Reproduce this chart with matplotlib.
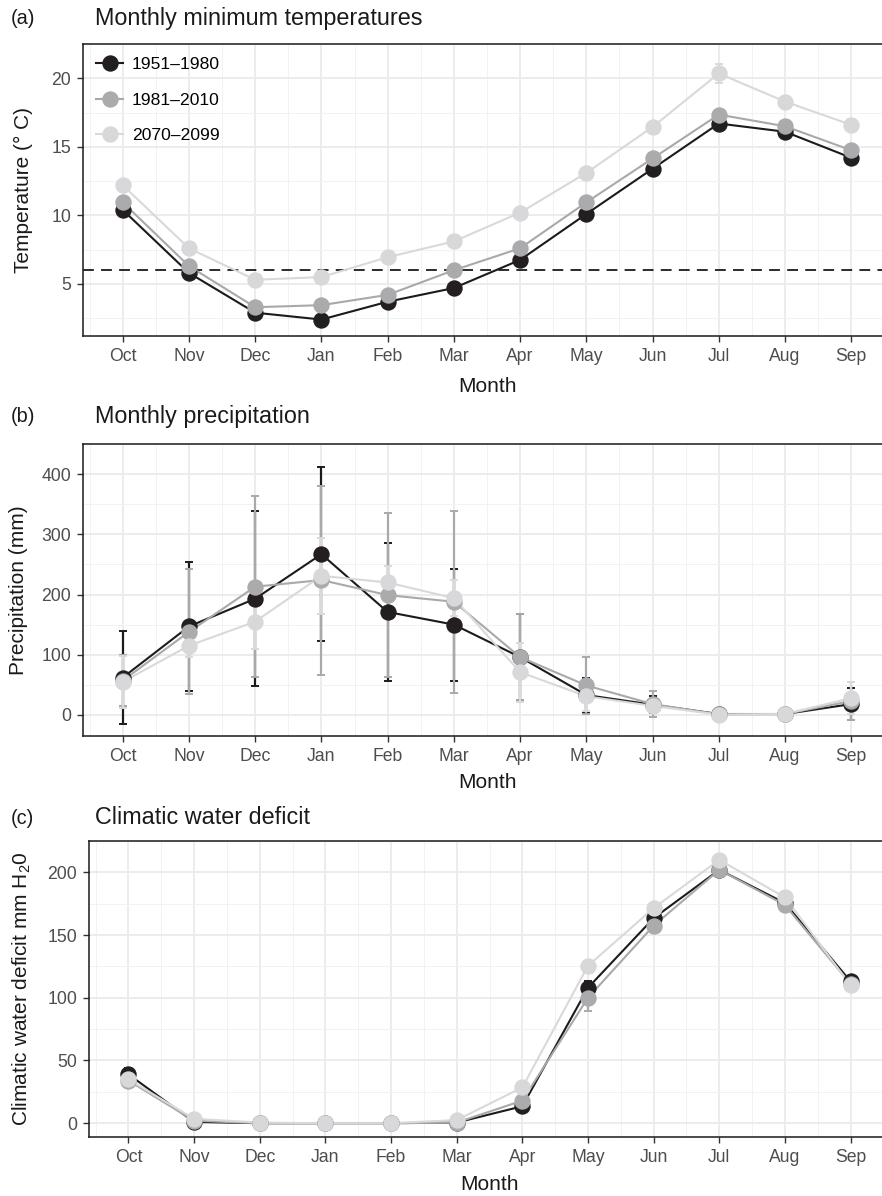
import matplotlib
matplotlib.use("Agg")
import matplotlib.pyplot as plt
import numpy as np

plt.rcParams['font.family'] = ['Liberation Sans', 'DejaVu Sans']
plt.rcParams['mathtext.fontset'] = 'custom'
plt.rcParams['mathtext.rm'] = 'Liberation Sans'

months = ["Oct", "Nov", "Dec", "Jan", "Feb", "Mar", "Apr", "May", "Jun", "Jul", "Aug", "Sep"]
periods = ["1951\u20131980", "1981\u20132010", "2070\u20132099"]

# (a) monthly minimum temperature (deg C), mean and sd
tmin_1951 = [10.4, 5.8, 2.9, 2.4, 3.7, 4.7, 6.75, 10.1, 13.4, 16.7, 16.1, 14.2]
tmin_1981 = [10.95, 6.3, 3.3, 3.45, 4.2, 6.0, 7.6, 10.95, 14.15, 17.35, 16.5, 14.75]
tmin_2070 = [12.2, 7.6, 5.3, 5.5, 6.95, 8.1, 10.2, 13.1, 16.45, 20.35, 18.3, 16.6]
tmin_sd_1951 = [0.2, 0.2, 0.2, 0.15, 0.2, 0.15, 0.15, 0.2, 0.2, 0.2, 0.2, 0.2]
tmin_sd_1981 = [0.2, 0.2, 0.2, 0.15, 0.2, 0.15, 0.15, 0.2, 0.2, 0.2, 0.2, 0.2]
tmin_sd_2070 = [0.2, 0.2, 0.2, 0.2, 0.25, 0.2, 0.2, 0.25, 0.25, 0.7, 0.3, 0.45]
threshold = 6

# (b) monthly precipitation (mm), mean and sd
ppt_1951 = [62, 147, 193, 267, 171, 150, 96, 33, 17, 1.5, 1.5, 18]
ppt_1981 = [57, 138, 213, 224, 199, 188, 96, 49, 18, 1, 1.5, 23]
ppt_2070 = [55, 115, 155, 231, 220, 194, 71, 31, 15, 0.5, 1.5, 28]
ppt_sd_1951 = [77, 107, 145, 145, 115, 93, 71, 29, 14, 9, 3, 26]
ppt_sd_1981 = [42, 104, 150, 157, 136, 151, 72, 48, 21, 5, 3, 32]
ppt_sd_2070 = [43, 18, 45, 63, 28, 30, 49, 25, 10, 3, 3, 26]

# (c) climatic water deficit (mm H2O), mean and sd
cwd_1951 = [39, 1, 0, 0, 0, 0.5, 13.5, 108, 163.5, 202, 175.5, 113]
cwd_1981 = [34, 2, 0, 0, 0, 0.5, 18, 100, 157.5, 202, 174, 111]
cwd_2070 = [35, 3.5, 0.5, 0, 0, 2.5, 28.5, 125.5, 171.5, 210, 180, 110]
cwd_sd_1951 = [5, 1, 0, 0, 0, 0.5, 2, 5, 3, 2, 2, 2]
cwd_sd_1981 = [3, 1, 0, 0, 0, 0.5, 2, 10.5, 3, 2, 2, 2]
cwd_sd_2070 = [3, 1, 0, 0, 0, 1, 4, 4, 3, 2, 2, 2]

line_cols = ["#1c1a1b", "#a9a9ab", "#d9d9da"]
pt_cols = ["#231f20", "#ababad", "#d8d8da"]

W, H = 882, 1196
fig = plt.figure(figsize=(W / 100, H / 100), dpi=100)

def fx(px):
    return px / W

def fy(py):
    return 1 - py / H

x = np.arange(1, 13)

def make_panel(left, right, top, bottom, series, sds, ylim, yticks, yminor):
    ax = fig.add_axes([fx(left), fy(bottom), fx(right - left), fy(top) - fy(bottom)])
    ax.set_xlim(0.4, 12.6)
    ax.set_ylim(*ylim)
    ax.set_xticks(x)
    ax.set_xticklabels(months)
    ax.set_xticks(np.arange(0.5, 13, 1), minor=True)
    ax.set_yticks(yticks)
    ax.set_yticks(yminor, minor=True)
    ax.grid(which='major', color='#ebebeb', lw=1.3, zorder=0)
    ax.grid(which='minor', color='#f2f2f2', lw=0.7, zorder=0)
    ax.set_axisbelow(True)
    ax.tick_params(which='minor', length=0)
    ax.tick_params(which='major', length=4.5, width=1.0, color='#333333',
                   labelsize=12.7, labelcolor='#4d4d4d', pad=4)
    for s in ax.spines.values():
        s.set_color('#1a1a1a')
        s.set_linewidth(1.1)
    handles = []
    for i, (m, sd) in enumerate(zip(series, sds)):
        m = np.array(m, float)
        sd = np.array(sd, float)
        ax.errorbar(x, m, yerr=sd, fmt='none', ecolor=line_cols[i],
                    elinewidth=1.6, capsize=3, capthick=1.4, zorder=3 + i * 0.1)
    for i, m in enumerate(series):
        ax.plot(x, m, color=line_cols[i], lw=1.5, zorder=4 + i * 0.1)
    for i, m in enumerate(series):
        ax.plot(x, m, 'o', color=pt_cols[i], ms=11.8, mec='none', zorder=5 + i * 0.1)
        h, = ax.plot([], [], '-o', color=line_cols[i], mfc=pt_cols[i], mec='none',
                     ms=11.8, lw=1.5)
        handles.append(h)
    return ax, handles

# Panel (a)
axa, handles = make_panel(83, 891, 44, 336, [tmin_1951, tmin_1981, tmin_2070],
                          [tmin_sd_1951, tmin_sd_1981, tmin_sd_2070],
                          (1.2, 22.0), [5, 10, 15, 20], np.arange(2.5, 23, 5))
axa.axhline(threshold, color='#1a1a1a', lw=1.3, ls=(0, (6, 4)), zorder=2)
leg = axa.legend(handles, periods, loc='upper left', bbox_to_anchor=(0.0, 1.0),
                 frameon=False, fontsize=12.6, handlelength=1.55, handletextpad=0.5,
                 labelspacing=1.15, borderaxespad=0.45, borderpad=0.3)

# Panel (b)
axb, _ = make_panel(83, 891, 444, 736, [ppt_1951, ppt_1981, ppt_2070],
                    [ppt_sd_1951, ppt_sd_1981, ppt_sd_2070],
                    (-35, 434), [0, 100, 200, 300, 400], np.arange(50, 451, 100))

# Panel (c)
axc, _ = make_panel(89, 890, 841, 1137, [cwd_1951, cwd_1981, cwd_2070],
                    [cwd_sd_1951, cwd_sd_1981, cwd_sd_2070],
                    (-11, 222), [0, 50, 100, 150, 200], np.arange(25, 230, 50))

# Titles and labels
for tag, title, yy in [("(a)", "Monthly minimum temperatures", 18),
                       ("(b)", "Monthly precipitation", 417),
                       ("(c)", "Climatic water deficit", 818)]:
    fig.text(fx(11), fy(yy), tag, fontsize=14.3, va='center', ha='left', color='#1a1a1a')
    fig.text(fx(95), fy(yy), title, fontsize=16.8, va='center', ha='left', color='#1a1a1a')

for yy, xc in [(386, 487), (783, 487), (1185, 490)]:
    fig.text(fx(xc), fy(yy), "Month", fontsize=15, ha='center', va='center', color='#1a1a1a')

fig.text(fx(23), fy(190), "Temperature (\u00b0 C)", fontsize=15, rotation=90,
         ha='center', va='center', color='#1a1a1a')
fig.text(fx(19), fy(590), "Precipitation (mm)", fontsize=15, rotation=90,
         ha='center', va='center', color='#1a1a1a')
fig.text(fx(22), fy(989), r"Climatic water deficit mm $\mathregular{H_2}$0", fontsize=15,
         rotation=90, ha='center', va='center', color='#1a1a1a')

fig.savefig("out.png", dpi=100)
